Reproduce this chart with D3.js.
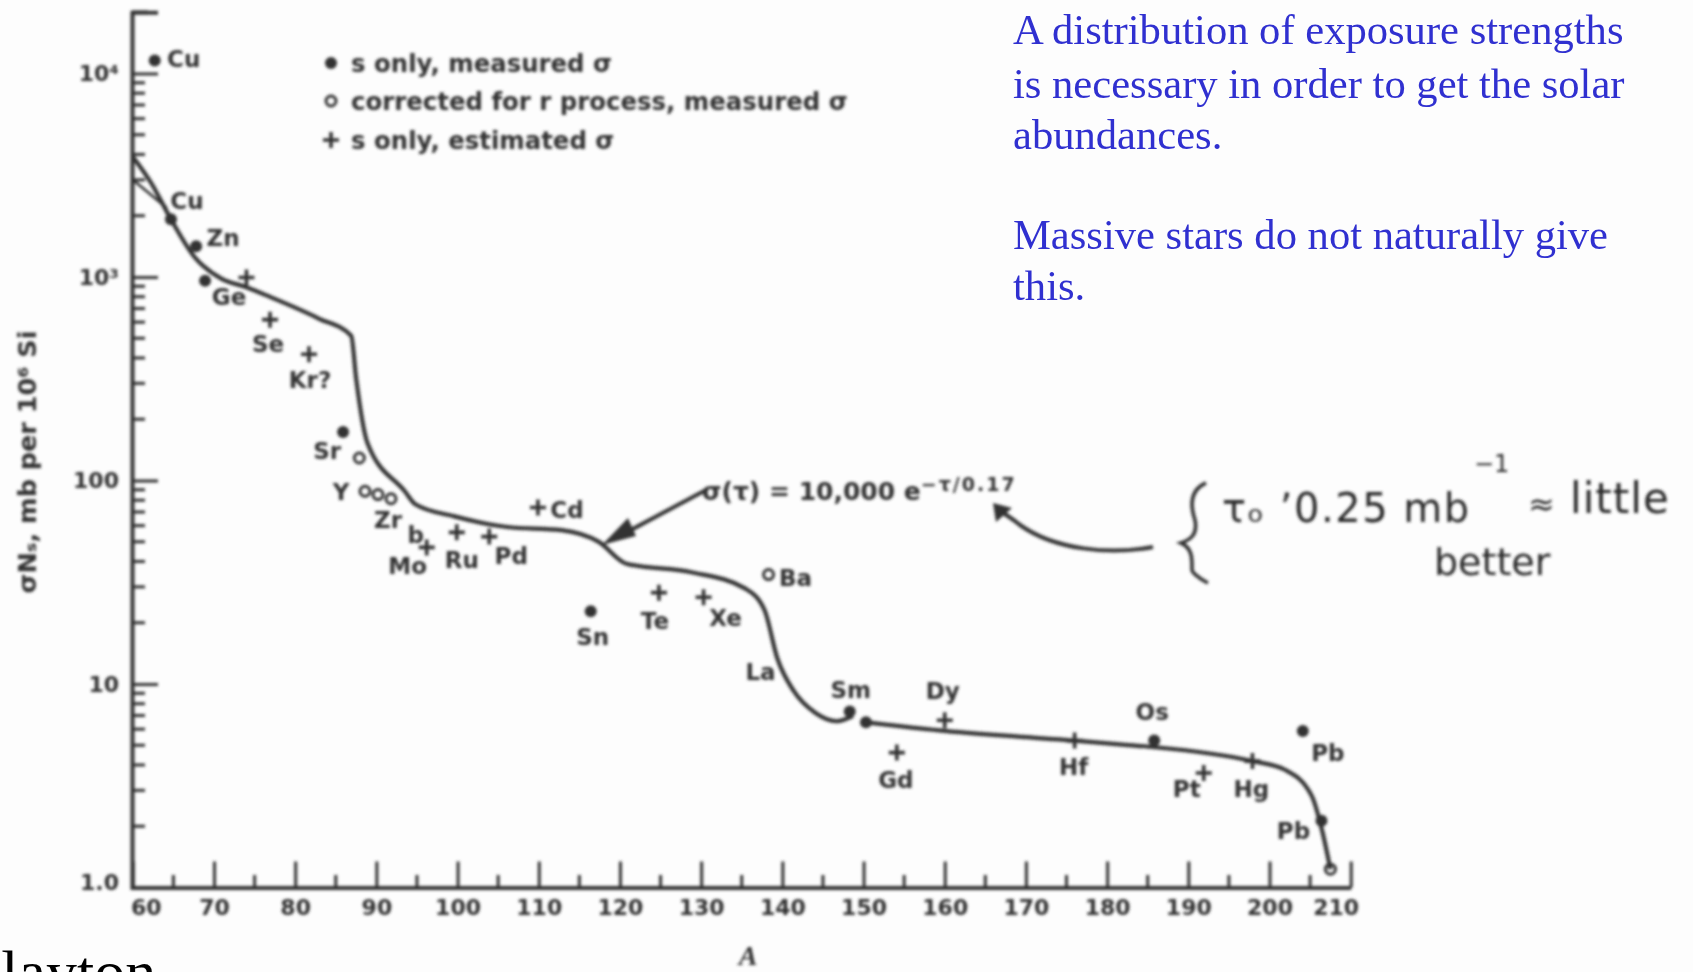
<!DOCTYPE html>
<html>
<head>
<meta charset="utf-8">
<script src="https://cdn.jsdelivr.net/npm/d3@7"></script>
<style>
  html, body { margin: 0; padding: 0; background: #fdfdfd; overflow: hidden; }
  svg { display: block; }
</style>
</head>
<body>
<svg id="chart"></svg>
<script>
// s-process curve
const curveA = [60, 62.3, 64.7, 67.6, 70.9, 74, 76.9, 82.9, 86.9, 87.5, 88.9, 93.5, 94.8, 99.5, 106.1, 112.8, 117.4, 120.8, 128.8, 135.4, 137.8, 139.4, 141.4, 144, 146.7, 148.7];
const curveValue = [3900, 2880, 1920, 1254, 982, 890, 798, 625, 514, 319, 153, 88.5, 76.4, 66.8, 59.1, 57, 49.9, 39, 35.4, 29.5, 23.1, 13.3, 9.24, 7.24, 6.56, 6.97];
const tailA = [150.3, 160, 176, 182.6, 185.9, 197.9, 201.9, 205.2, 206.5, 207.5];
const tailValue = [6.48, 5.88, 5.27, 5.01, 4.89, 4.18, 3.79, 2.82, 1.89, 1.23];
const branchA = [60, 64.2];
const branchValue = [3000, 2180];

const pointA = [62.7, 64.7, 67.8, 68.9, 74, 76.9, 81.7, 85.9, 87.9, 88.6, 90.2, 91.8, 96.2, 99.9, 103.9, 109.9, 116.4, 124.8, 130.3, 138.3, 148.3, 150.3, 160, 154.1, 176, 185.8, 191.9, 197.9, 204.1, 206.4, 207.5];
const pointValue = [11580, 1920, 1416, 958, 994, 617, 417, 173, 129, 88.5, 85.3, 81.3, 46.9, 55.6, 53, 73.7, 22.8, 28.1, 26.7, 34.5, 7.32, 6.48, 6.64, 4.6, 5.27, 5.27, 3.65, 4.18, 5.88, 2.13, 1.23];
const pointKind = ['s', 's', 's', 's', 'e', 'e', 'e', 's', 'c', 'c', 'c', 'c', 'e', 'e', 'e', 'e', 's', 'e', 'e', 'c', 's', 's', 'e', 'e', 'e', 's', 'e', 'e', 's', 's', 'c'];

const xTickValues = d3.range(60, 211, 10);
const xMinorValues = d3.range(65, 210, 10);
const yTickValues = [1, 10, 100, 1000, 10000];
const yTickLabels = ['1.0', '10', '100', '10³', '10⁴'];
const yMinorFactors = [2, 3, 4, 5, 6, 7, 8, 9];

const legendKinds = ['s', 'c', 'e'];
const legendLabels = ['s only, measured σ', 'corrected for r process, measured σ', 's only, estimated σ'];
const noteLines = ['A distribution of exposure strengths', 'is necessary in order to get the solar', 'abundances.', 'Massive stars do not naturally give', 'this.'];

// [point index, text, dx, dy]
const labelLayout = [
  [0, 'Cu', 29, -2], [1, 'Cu', 16, -18], [2, 'Zn', 27, -8], [3, 'Ge', 24, 16], [5, 'Se', -2, 24],
  [6, 'Kr?', 1, 26], [7, 'Sr', -16, 19], [9, 'Y', -24, 1], [11, 'Zr', -3, 21], [12, 'b', -11, -12],
  [12, 'Mo', -19, 19], [13, 'Ru', 5, 28], [14, 'Pd', 22, 19], [15, 'Cd', 29, 2], [16, 'Sn', 2, 26],
  [17, 'Te', -4, 28], [18, 'Xe', 22, 21], [19, 'Ba', 27, 3], [19, 'La', -8, 97], [20, 'Sm', 1, -22],
  [22, 'Dy', -2, -29], [23, 'Gd', -1, 27], [24, 'Hf', -1, 26], [25, 'Os', -2, -29], [26, 'Pt', -17, 16],
  [27, 'Hg', -1, 28], [28, 'Pb', 25, 22], [29, 'Pb', -28, 10]
];

const width = 1693;
const height = 972;
const ink = '#303030';
const sans = '"DejaVu Sans", sans-serif';
const serif = '"Liberation Serif", serif';

const svg = d3.select('#chart').attr('width', width).attr('height', height);

// the scan is soft, so everything from it goes through one blur
svg.append('defs').append('filter')
  .attr('id', 'scan')
  .attr('x', '-2%').attr('y', '-2%').attr('width', '104%').attr('height', '104%')
  .append('feGaussianBlur')
  .attr('stdDeviation', 1.7);

const xscale = d3.scaleLinear().domain([60, 210]).range([132.8, 1350.7]);
const yscale = d3.scaleLog().domain([1, 20000]).range([887.5, 12.2]);

const scan = svg.append('g').attr('filter', 'url(#scan)');

// axes
const yaxis = d3.axisLeft(yscale)
  .tickValues(yTickValues)
  .tickFormat((d, i) => yTickLabels[i])
  .tickSize(-26)
  .tickPadding(13);
const yaxis_group = scan.append('g').attr('transform', 'translate(132,0)').call(yaxis);

const xaxis = d3.axisBottom(xscale)
  .tickValues(xTickValues)
  .tickSize(-26)
  .tickPadding(12)
  .tickSizeOuter(0);
const xaxis_group = scan.append('g').attr('transform', 'translate(0,887.5)').call(xaxis);

[yaxis_group, xaxis_group].forEach(g => {
  g.selectAll('path').attr('stroke', ink).attr('stroke-width', 4);
  g.selectAll('line').attr('stroke', ink).attr('stroke-width', 3);
  g.selectAll('text')
    .attr('fill', ink)
    .style('font-family', sans)
    .style('font-size', '22px')
    .style('font-weight', 'bold');
});

// first and last x labels sit off their ticks in the scan
xaxis_group.selectAll('.tick text')
  .attr('dx', d => d === 60 ? 13 : d === 210 ? -15 : 0);
yaxis_group.selectAll('.tick text').filter(d => d === 1).attr('dy', '0.1em');

const minorY = [];
[1, 10, 100, 1000, 10000].forEach(decade => yMinorFactors.forEach(f => {
  if (decade * f < 20000) minorY.push(decade * f);
}));

scan.append('g').selectAll('line')
  .data(minorY)
  .join('line')
  .attr('x1', 132)
  .attr('x2', 145)
  .attr('y1', d => yscale(d))
  .attr('y2', d => yscale(d))
  .attr('stroke', ink)
  .attr('stroke-width', 3);

scan.append('g').selectAll('line')
  .data(xMinorValues)
  .join('line')
  .attr('x1', d => xscale(d))
  .attr('x2', d => xscale(d))
  .attr('y1', 887.5)
  .attr('y2', 875)
  .attr('stroke', ink)
  .attr('stroke-width', 3);

// small serif at the top of the y axis
scan.append('path')
  .attr('d', `M132,${yscale(20000)}H148`)
  .attr('stroke', ink)
  .attr('stroke-width', 3.5)
  .attr('fill', 'none');

// curve
const line = d3.line()
  .x(d => xscale(d[0]))
  .y(d => yscale(d[1]))
  .curve(d3.curveMonotoneX);

[[curveA, curveValue, 4.2], [tailA, tailValue, 4.2], [branchA, branchValue, 2.6]].forEach(([xs, ys, w]) => {
  scan.append('path')
    .attr('d', line(d3.zip(xs, ys)))
    .attr('fill', 'none')
    .attr('stroke', ink)
    .attr('stroke-width', w);
});

function drawMarker(g, kind, px, py) {
  if (kind === 's') {
    g.append('circle').attr('cx', px).attr('cy', py).attr('r', 6).attr('fill', ink);
  } else if (kind === 'c') {
    g.append('circle').attr('cx', px).attr('cy', py).attr('r', 5)
      .attr('fill', 'none').attr('stroke', ink).attr('stroke-width', 3);
  } else {
    g.append('path')
      .attr('d', `M${px - 8},${py}H${px + 8}M${px},${py - 8}V${py + 8}`)
      .attr('stroke', ink)
      .attr('stroke-width', 3.6);
  }
}

pointA.forEach((a, i) => drawMarker(scan, pointKind[i], xscale(a), yscale(pointValue[i])));

scan.append('g').selectAll('text')
  .data(labelLayout)
  .join('text')
  .attr('x', d => xscale(pointA[d[0]]) + d[2])
  .attr('y', d => yscale(pointValue[d[0]]) + d[3])
  .attr('dy', '0.35em')
  .attr('text-anchor', 'middle')
  .attr('fill', ink)
  .style('font-family', sans)
  .style('font-size', '23px')
  .style('font-weight', 'bold')
  .text(d => d[1]);

// legend
const legendY = [63, 101, 140];
legendLabels.forEach((label, i) => {
  drawMarker(scan, legendKinds[i], 331, legendY[i]);
  scan.append('text')
    .attr('x', 351)
    .attr('y', legendY[i])
    .attr('dy', '0.35em')
    .attr('fill', ink)
    .style('font-family', sans)
    .style('font-size', '24.4px')
    .style('font-weight', 'bold')
    .text(label);
});

// axis titles
scan.append('text')
  .attr('transform', 'translate(27,462) rotate(-90)')
  .attr('dy', '0.35em')
  .attr('text-anchor', 'middle')
  .attr('fill', ink)
  .style('font-family', sans)
  .style('font-size', '25.5px')
  .style('font-weight', 'bold')
  .text('σNₛ, mb per 10⁶ Si');

scan.append('text')
  .attr('x', 748)
  .attr('y', 965)
  .attr('text-anchor', 'middle')
  .attr('fill', ink)
  .style('font-family', serif)
  .style('font-style', 'italic')
  .style('font-weight', 'bold')
  .style('font-size', '28px')
  .text('A');

// fit formula and its arrow
scan.append('text')
  .attr('x', 702)
  .attr('y', 491)
  .attr('dy', '0.35em')
  .attr('fill', ink)
  .style('font-family', sans)
  .style('font-size', '25px')
  .style('font-weight', 'bold')
  .text('σ(τ) = 10,000 e')
  .append('tspan')
  .attr('dy', '-0.45em')
  .style('font-size', '19px')
  .style('letter-spacing', '2px')
  .text('−τ/0.17');

scan.append('path')
  .attr('d', 'M706,490L612,540')
  .attr('stroke', ink)
  .attr('stroke-width', 4)
  .attr('fill', 'none');
scan.append('path')
  .attr('d', 'M602,545L628,518L636,536Z')
  .attr('fill', ink);

// pen notes added on top of the figure
scan.append('path')
  .attr('d', 'M1153,547C1110,555 1055,550 1020,525C1012,518 1005,515 1000,510')
  .attr('stroke', ink)
  .attr('stroke-width', 4)
  .attr('fill', 'none');
scan.append('path')
  .attr('d', 'M993,503L1012,508L996,522Z')
  .attr('fill', ink);
scan.append('path')
  .attr('d', 'M1206,483C1190,490 1190,505 1195,520C1198,535 1190,540 1181,543C1193,548 1192,560 1192,570C1192,572 1198,578 1208,583')
  .attr('stroke', ink)
  .attr('stroke-width', 3.6)
  .attr('fill', 'none');

const pen = [
  ['τₒ ʼ0.25 mb', 1222, 508, 40, '1.5px'],
  ['−1', 1474, 464, 24, '0'],
  ['≈', 1528, 504, 32, '0'],
  ['little', 1570, 498, 42, '1px'],
  ['better', 1434, 562, 38, '0']
];
pen.forEach(([t, x, y, size, spacing]) => {
  scan.append('text')
    .attr('x', x)
    .attr('y', y)
    .attr('dy', '0.35em')
    .attr('fill', '#282828')
    .style('font-family', sans)
    .style('font-size', size + 'px')
    .style('letter-spacing', spacing)
    .text(t);
});

// slide text stays sharp
const noteY = [44, 98, 149, 249, 300];
svg.append('g').selectAll('text')
  .data(noteLines)
  .join('text')
  .attr('x', 1013)
  .attr('y', (d, i) => noteY[i])
  .attr('fill', '#3030d0')
  .style('font-family', serif)
  .style('font-size', '42.6px')
  .text(d => d);

svg.append('text')
  .attr('x', -40)
  .attr('y', 993)
  .attr('fill', '#000')
  .style('font-family', serif)
  .style('font-size', '62px')
  .text('Clayton');
</script>
</body>
</html>
